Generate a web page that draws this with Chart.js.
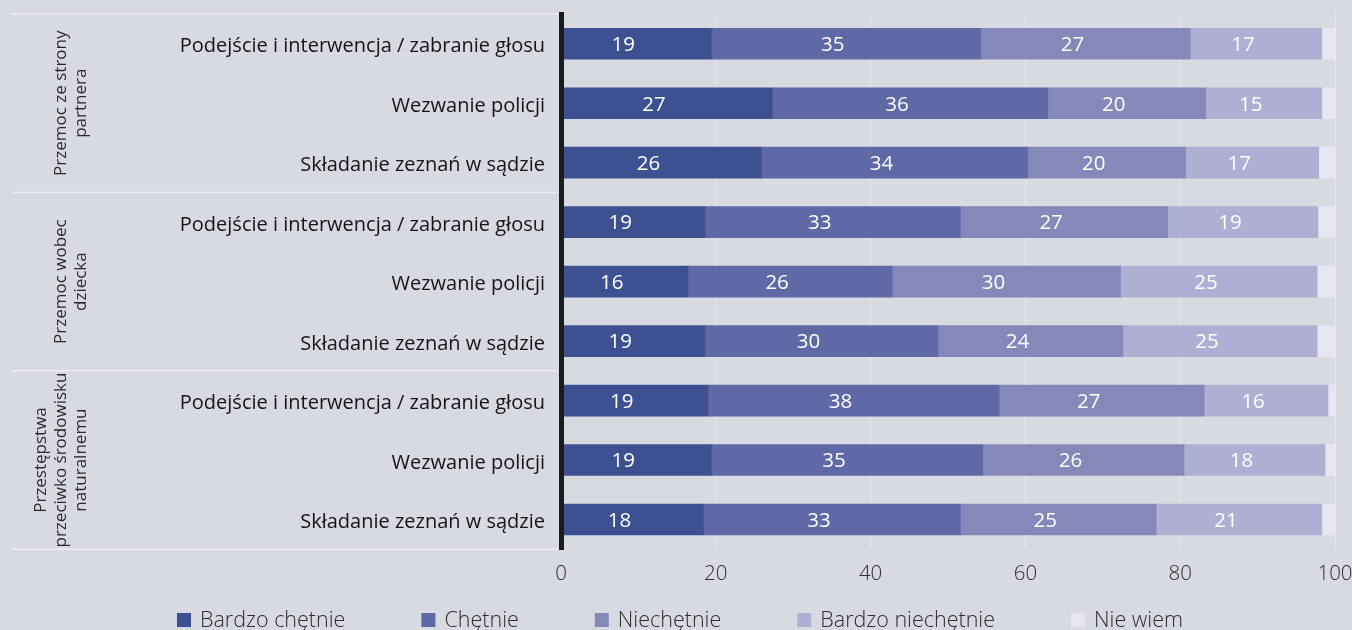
<!DOCTYPE html>
<html><head><meta charset="utf-8">
<script src="https://cdn.jsdelivr.net/npm/chart.js@4.4.1/dist/chart.umd.min.js"></script>
<style>
html,body{margin:0;padding:0;background:#d8dae2;overflow:hidden;}
canvas{display:block;}
</style></head><body>
<canvas id="c" width="1352" height="630"></canvas>
<script>
const categories = [
  "Podejście i interwencja / zabranie głosu","Wezwanie policji","Składanie zeznań w sądzie",
  "Podejście i interwencja / zabranie głosu","Wezwanie policji","Składanie zeznań w sądzie",
  "Podejście i interwencja / zabranie głosu","Wezwanie policji","Składanie zeznań w sądzie"
];
const groupNames = [["Przemoc ze strony","partnera"],["Przemoc wobec","dziecka"],["Przestępstwa","przeciwko środowisku","naturalnemu"]];
const groupSizes = [3,3,3];
const seriesNames = ["Bardzo chętnie","Chętnie","Niechętnie","Bardzo niechętnie","Nie wiem"];
const bardzoChetnie    = [19.4,27.3,25.9,18.6,16.4,18.6,19.0,19.4,18.4];
const chetnie          = [34.8,35.6,34.4,33.0,26.4,30.1,37.6,35.1,33.2];
const niechetnie       = [27.1,20.4,20.4,26.8,29.5,23.9,26.5,26.0,25.3];
const bardzoNiechetnie = [17.0,15.0,17.2,19.4,25.4,25.1,16.0,18.2,21.4];
const nieWiem          = [1.7,1.7,2.1,2.2,2.3,2.3,0.9,1.3,1.7];
const xTicks = [0,20,40,60,80,100];

const colors = ["#3d5192","#5f69a5","#8589b9","#aeafd3","#e5e6f1"];
const seriesValues = [bardzoChetnie, chetnie, niechetnie, bardzoNiechetnie, nieWiem];
const FONT = "'Open Sans', sans-serif";

const groupPlugin = {
  id: 'groups',
  afterDraw(chart) {
    const ctx = chart.ctx, y = chart.scales.y;
    ctx.save();
    ctx.strokeStyle = '#eceef2';
    ctx.lineWidth = 1.5;
    let idx = 0;
    const bounds = [-0.5];
    groupSizes.forEach(n => { idx += n; bounds.push(idx - 0.5); });
    bounds.forEach(b => {
      const py = y.getPixelForValue(b);
      ctx.beginPath(); ctx.moveTo(12, py); ctx.lineTo(chart.chartArea.left - 3, py); ctx.stroke();
    });
    ctx.fillStyle = '#2a2a2a';
    ctx.font = "17px " + FONT;
    ctx.textAlign = 'center';
    ctx.textBaseline = 'middle';
    for (let g = 0; g < groupNames.length; g++) {
      const cy = (y.getPixelForValue(bounds[g]) + y.getPixelForValue(bounds[g+1])) / 2;
      const lines = groupNames[g];
      const n = lines.length;
      lines.forEach((t, i) => {
        const cx = 81 - (n - 1 - i) * 20;
        ctx.save();
        ctx.translate(cx, cy);
        ctx.rotate(-Math.PI / 2);
        ctx.fillText(t, 0, 0);
        ctx.restore();
      });
    }
    ctx.restore();
  }
};

const valuePlugin = {
  id: 'values',
  afterDatasetsDraw(chart) {
    const ctx = chart.ctx;
    ctx.save();
    ctx.fillStyle = '#ffffff';
    ctx.font = "20.5px " + FONT;
    ctx.textAlign = 'center';
    ctx.textBaseline = 'middle';
    for (let d = 0; d < 4; d++) {
      const meta = chart.getDatasetMeta(d);
      meta.data.forEach((el, i) => {
        const v = chart.data.datasets[d].data[i];
        const cx = (el.x + el.base) / 2 - 13;
        ctx.fillText(String(Math.round(v)), cx, el.y + 1.5);
      });
    }
    ctx.restore();
  }
};

const legendPlugin = {
  id: 'customLegend',
  afterDraw(chart) {
    const ctx = chart.ctx;
    ctx.save();
    ctx.font = "300 21.5px " + FONT;
    ctx.textBaseline = 'middle';
    ctx.textAlign = 'left';
    const box = 14, gapText = 9, gapItem = 76, cyL = 620;
    const ds = chart.data.datasets;
    const widths = ds.map(d => box + gapText + ctx.measureText(d.label).width);
    const total = widths.reduce((a,b)=>a+b,0) + gapItem * (ds.length - 1);
    let x = 680 - total / 2;
    ds.forEach((d, i) => {
      ctx.fillStyle = d.backgroundColor;
      ctx.fillRect(x, cyL - box/2, box, box);
      ctx.fillStyle = '#2e2e2e';
      ctx.fillText(d.label, x + box + gapText, cyL + 1);
      x += widths[i] + gapItem;
    });
    ctx.restore();
  }
};

new Chart(document.getElementById('c'), {
  type: 'bar',
  data: {
    labels: categories,
    datasets: seriesNames.map((name, i) => ({
      label: name,
      data: seriesValues[i],
      backgroundColor: colors[i],
      borderWidth: 0,
      barThickness: 31
    }))
  },
  options: {
    indexAxis: 'y',
    responsive: false,
    animation: false,
    layout: { padding: { left: 0, right: 17, top: 14, bottom: 30.75 } },
    plugins: { legend: { display: false }, tooltip: { enabled: false } },
    scales: {
      x: {
        stacked: true, min: 0, max: 100,
        grid: { color: '#e8e9ed', lineWidth: 1, drawTicks: false },
        border: { display: false },
        ticks: { font: { family: FONT, size: 20.5, weight: '300' }, color: '#2e2e2e', padding: 13, maxRotation: 0 },
        afterBuildTicks: s => { s.ticks = xTicks.map(v => ({ value: v })); },
        afterFit: s => { s.height = 50; s.paddingLeft = 0; s.paddingRight = 0; }
      },
      y: {
        stacked: true,
        grid: { display: false, drawTicks: false },
        border: { display: true, color: '#1c1c1c', width: 5, z: 1 },
        ticks: { font: { family: FONT, size: 20 }, color: '#151515', padding: 16, autoSkip: false, labelOffset: 3 },
        afterFit: s => { s.width = 561; s.paddingTop = 0; s.paddingBottom = 0; }
      }
    }
  },
  plugins: [groupPlugin, valuePlugin, legendPlugin]
});
</script>
</body></html>
